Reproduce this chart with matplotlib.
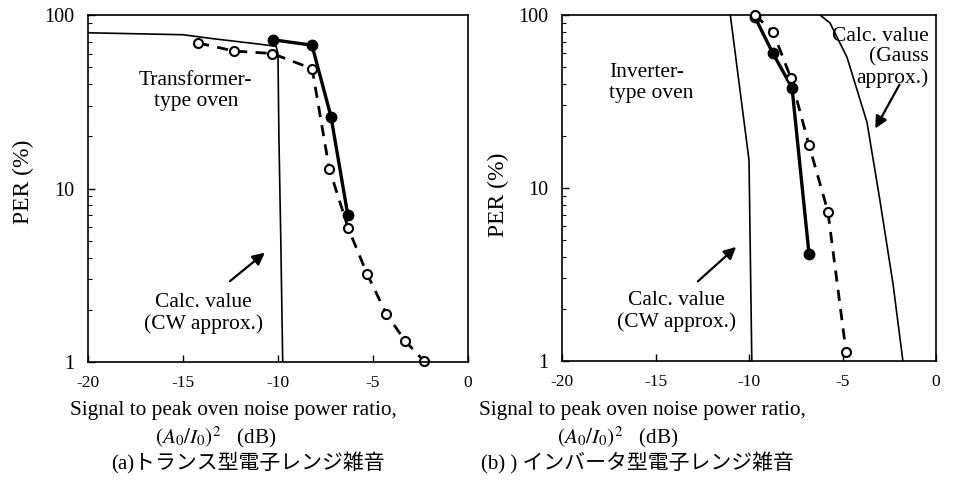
import matplotlib.pyplot as plt
import matplotlib.ticker as ticker

plt.rcParams['font.family'] = ['Liberation Serif', 'Noto Sans CJK JP']
plt.rcParams['mathtext.fontset'] = 'stix'

# (a) transformer-type oven
cw_a_x = [-20, -15, -13.4, -11.0, -10.1, -10.0, -9.95, -9.85, -9.75]
cw_a_y = [79, 77, 73, 68, 66, 60, 20, 5, 1]
meas_a_x = [-10.26, -8.21, -7.21, -6.32]
meas_a_y = [72, 67, 26, 7.0]
open_a_x = [-14.2, -12.3, -10.3, -8.2, -7.3, -6.3, -5.3, -4.3, -3.3, -2.3]
open_a_y = [69, 62, 60, 49, 13, 5.9, 3.2, 1.9, 1.32, 1.01]

# (b) inverter-type oven
cw_b_x = [-11.0, -10.0, -9.85]
cw_b_y = [100, 14.5, 1]
gauss_b_x = [-6.2, -5.67, -4.76, -3.69, -3.0, -2.3, -1.77]
gauss_b_y = [100, 90, 57, 24, 8.5, 2.8, 1]
meas_b_x = [-9.68, -8.72, -7.70, -6.79]
meas_b_y = [97, 60, 38, 4.15]
open_b_x = [-9.68, -8.72, -7.75, -6.79, -5.78, -4.81]
open_b_y = [100, 80, 43, 17.7, 7.3, 1.13]

xticks = [-20, -15, -10, -5, 0]
yticks = [1, 10, 100]
captions = ['(a)トランス型電子レンジ雑音', '(b) ) インバータ型電子レンジ雑音']

fig = plt.figure(figsize=(9.55, 4.8), dpi=100)
ax1 = fig.add_axes([0.0921, 0.2458, 0.3979, 0.7229])
ax2 = fig.add_axes([0.5885, 0.2479, 0.3916, 0.7208])

for ax in (ax1, ax2):
    ax.set_yscale('log')
    ax.set_xlim(-20, 0)
    ax.set_ylim(1, 100)
    ax.set_xticks(xticks)
    ax.set_xticklabels([str(t) for t in xticks])
    ax.yaxis.set_major_locator(ticker.FixedLocator(yticks))
    ax.yaxis.set_major_formatter(ticker.FixedFormatter([str(t) for t in yticks]))
    ax.yaxis.set_minor_locator(ticker.LogLocator(subs=range(2, 10)))
    ax.yaxis.set_minor_formatter(ticker.NullFormatter())
    ax.tick_params(which='both', direction='in', top=False, right=False)
    ax.tick_params(which='major', length=5, width=1)
    ax.tick_params(which='minor', length=3, width=0.8)
    ax.tick_params(axis='x', pad=9, labelsize=12.5)
    ax.tick_params(axis='y', pad=10, labelsize=14.5)
    for s in ax.spines.values():
        s.set_linewidth(1.2)
    ax.set_ylabel('PER (%)', fontsize=17)

ax1.yaxis.set_label_coords(-0.142, 0.52)
ax2.yaxis.set_label_coords(-0.142, 0.48)

dash = (0, (4, 3))

ax1.plot(cw_a_x, cw_a_y, color='black', lw=1.2)
ax1.plot(open_a_x, open_a_y, color='black', lw=2, linestyle=dash, marker='o',
         markersize=6.5, markerfacecolor='white', markeredgewidth=1.5, clip_on=False)
ax1.plot(meas_a_x, meas_a_y, color='black', lw=2.4, marker='o', markersize=7.5, clip_on=False)

ax2.plot(cw_b_x, cw_b_y, color='black', lw=1.2)
ax2.plot(gauss_b_x, gauss_b_y, color='black', lw=1.2)
ax2.plot(open_b_x, open_b_y, color='black', lw=2, linestyle=dash, marker='o',
         markersize=6.5, markerfacecolor='white', markeredgewidth=1.5, clip_on=False, zorder=3)
ax2.plot(meas_b_x, meas_b_y, color='black', lw=2.4, marker='o', markersize=7.5, clip_on=False, zorder=2)

txt = dict(fontsize=15.5, linespacing=1.15)
arrow = dict(arrowstyle='-|>', color='black', lw=1.6, mutation_scale=18)

ax1.text(0.284, 0.781, 'Transformer-\ntype oven', transform=ax1.transAxes,
         ha='center', va='center', **txt)
ax1.text(0.305, 0.141, 'Calc. value\n(CW approx.)', transform=ax1.transAxes,
         ha='center', va='center', **txt)
ax1.annotate('', xy=(0.471, 0.320), xytext=(0.368, 0.228),
             xycoords='axes fraction', textcoords='axes fraction', arrowprops=arrow)

ax2.text(0.126, 0.803, 'Inverter-\ntype oven', transform=ax2.transAxes,
         ha='left', va='center', **txt)
ax2.text(0.307, 0.142, 'Calc. value\n(CW approx.)', transform=ax2.transAxes,
         ha='center', va='center', **txt)
ax2.annotate('', xy=(0.471, 0.335), xytext=(0.358, 0.225),
             xycoords='axes fraction', textcoords='axes fraction', arrowprops=arrow)
ax2.text(0.981, 0.878, 'Calc. value\n(Gauss\napprox.)', transform=ax2.transAxes,
         ha='right', va='center', multialignment='right', fontsize=15.5, linespacing=1.12)
ax2.annotate('', xy=(0.834, 0.665), xytext=(0.906, 0.806),
             xycoords='axes fraction', textcoords='axes fraction', arrowprops=arrow)

# x labels and captions as figure text
line1 = 'Signal to peak oven noise power ratio,'
line2 = r'$(\mathit{A}_0/\mathit{I}_0)^2$   (dB)'
for cx1, cx2, cx3, cap in [(233, 216, 248, captions[0]), (642, 618, 637, captions[1])]:
    fig.text(cx1 / 955, 1 - 411 / 480, line1, ha='center', va='center', fontsize=15.3)
    fig.text(cx2 / 955, 1 - 437 / 480, line2, ha='center', va='center', fontsize=15.3)
    fig.text(cx3 / 955, 1 - 463 / 480, cap, ha='center', va='center', fontsize=15)

fig.savefig('out.png', dpi=100)
